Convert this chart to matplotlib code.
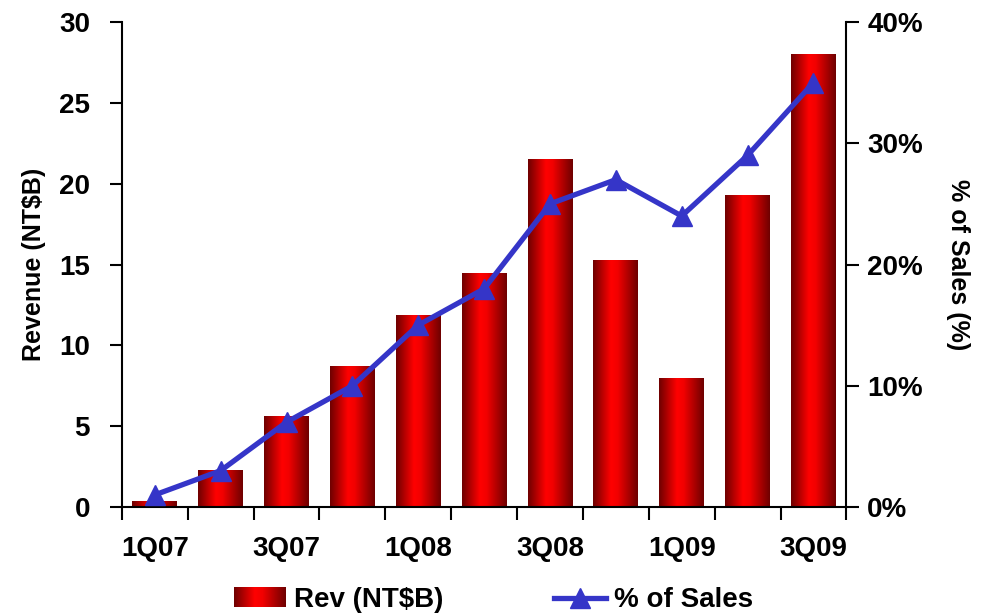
import matplotlib

matplotlib.use("Agg")
import matplotlib.pyplot as plt
import numpy as np
from matplotlib.colors import LinearSegmentedColormap
from matplotlib.image import BboxImage
from matplotlib.legend_handler import HandlerBase
from matplotlib.lines import Line2D
from matplotlib.patches import Patch
from matplotlib.transforms import Bbox, TransformedBbox
from matplotlib.ticker import FixedLocator, PercentFormatter

plt.rcParams["font.family"] = ["Liberation Sans", "DejaVu Sans"]
plt.rcParams["font.weight"] = "bold"

quarters = ["1Q07", "2Q07", "3Q07", "4Q07", "1Q08", "2Q08",
            "3Q08", "4Q08", "1Q09", "2Q09", "3Q09"]
revenue = [0.4, 2.3, 5.6, 8.7, 11.9, 14.5, 21.5, 15.3, 8.0, 19.3, 28.0]
pct_of_sales = [1, 3, 7, 10, 15, 18, 25, 27, 24, 29, 35]

LINE_BLUE = "#3535C8"
bar_cmap = LinearSegmentedColormap.from_list(
    "cyl", [(0.0, "#6e0000"), (0.4, "#ff0000"), (0.55, "#f20000"), (1.0, "#6e0000")]
)
gradient = np.linspace(0, 1, 256).reshape(1, -1)


class GradientHandler(HandlerBase):
    # legend key for the bars: same shaded cylinder look as the bars themselves
    def create_artists(self, legend, orig_handle, xdescent, ydescent,
                       width, height, fontsize, trans):
        box = TransformedBbox(Bbox.from_bounds(-xdescent, -ydescent, width, height), trans)
        img = BboxImage(box, cmap=bar_cmap, interpolation="bilinear")
        img.set_data(gradient)
        return [img]


fig = plt.figure(figsize=(9.83, 6.15), dpi=100)
ax = fig.add_axes([0.124, 0.1756, 0.737, 0.7886])
x = np.arange(len(quarters))

bars = ax.bar(x, revenue, width=0.68, facecolor="none", edgecolor="none", zorder=2)
for rect in bars:
    x0, y0 = rect.get_x(), rect.get_y()
    im = ax.imshow(gradient, cmap=bar_cmap, aspect="auto", interpolation="bilinear",
                   extent=(x0, x0 + rect.get_width(), y0, y0 + rect.get_height()),
                   zorder=2)
    im.set_clip_path(rect)

ax.set_xlim(-0.5, len(quarters) - 0.5)
ax.set_ylim(0, 30)
ax.set_yticks(range(0, 31, 5))
ax.xaxis.set_major_locator(FixedLocator(np.arange(-0.5, len(quarters), 1.0)))
ax.xaxis.set_minor_locator(FixedLocator(x[::2]))
ax.set_xticklabels([])
ax.set_xticklabels(quarters[::2], minor=True)
ax.tick_params(axis="x", which="major", direction="out", length=9, width=1.5)
ax.tick_params(axis="x", which="minor", length=0, pad=21, labelsize=20)
ax.tick_params(axis="y", direction="out", length=9, width=1.5, pad=14, labelsize=20)
ax.set_ylabel("Revenue (NT$B)", fontsize=18, fontweight="bold", labelpad=9)
for side in ("top", "right"):
    ax.spines[side].set_visible(False)
for side in ("left", "bottom"):
    ax.spines[side].set_linewidth(1.5)

ax2 = ax.twinx()
ax2.plot(x, pct_of_sales, color=LINE_BLUE, linewidth=3.8, marker="^",
         markersize=14, zorder=3)
ax2.set_ylim(0, 40)
ax2.set_yticks(range(0, 41, 10))
ax2.yaxis.set_major_formatter(PercentFormatter(decimals=0))
ax2.tick_params(axis="y", direction="out", length=9, width=1.5, pad=6, labelsize=20)
ax2.set_ylabel("% of Sales (%)", fontsize=18, fontweight="bold", rotation=270, labelpad=34)
for side in ("top", "left", "bottom"):
    ax2.spines[side].set_visible(False)
ax2.spines["right"].set_linewidth(1.5)

handles = [
    Patch(facecolor="red", label="Rev (NT$B)"),
    Line2D([], [], color=LINE_BLUE, linewidth=3.8, marker="^", markersize=14,
           label="% of Sales"),
]
fig.legend(handles=handles, loc="center", bbox_to_anchor=(0.502, 0.024), ncol=2,
           frameon=False, fontsize=20, columnspacing=4.0, handlelength=1.85,
           handletextpad=0.3, borderpad=0, handler_map={Patch: GradientHandler()})

fig.savefig("out.png", dpi=100)
